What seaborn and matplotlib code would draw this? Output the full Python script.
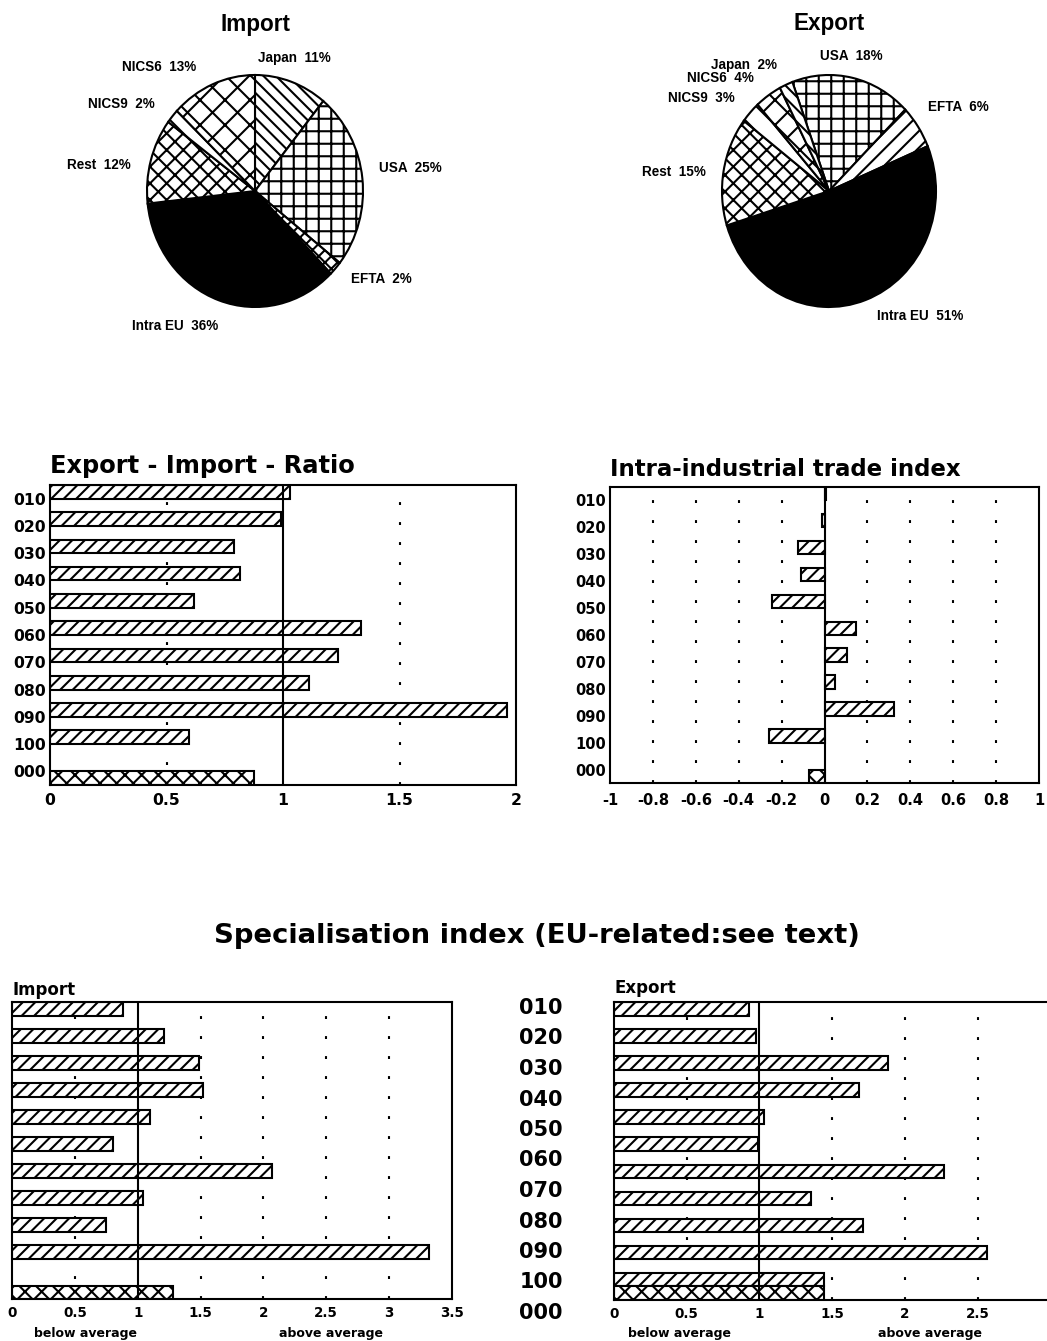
import numpy as np
import pandas as pd
import matplotlib
matplotlib.use("Agg")
import matplotlib.pyplot as plt
import seaborn as sns

# ---------------- data ----------------
pie_import_labels = ["Japan", "USA", "EFTA", "Intra EU", "Rest", "NICS9", "NICS6"]
pie_import_values = [11, 25, 2, 36, 12, 2, 13]
pie_export_labels = ["USA", "EFTA", "Intra EU", "Rest", "NICS9", "NICS6", "Japan"]
pie_export_values = [18, 6, 51, 15, 3, 4, 2]

sectors = ["010", "020", "030", "040", "050", "060", "070", "080", "090", "100"]
total_code = "000"

ratio_sector = [1.03, 0.99, 0.79, 0.816, 0.617, 1.336, 1.235, 1.11, 1.96, 0.598]
ratio_total = 0.874

intra_sector = [0.008, -0.01, -0.125, -0.108, -0.246, 0.145, 0.103, 0.049, 0.326, -0.258]
intra_total = -0.074

spec_import_sector = [0.88, 1.21, 1.485, 1.52, 1.095, 0.80, 2.07, 1.045, 0.745, 3.32]
spec_import_total = 1.28

spec_export_sector = [0.93, 0.976, 1.887, 1.688, 1.029, 0.988, 2.27, 1.355, 1.712, 2.563]
spec_export_total_sector = 1.444
spec_export_total = 1.444

ratio_ticks = [0, 0.5, 1, 1.5, 2]
ratio_ticklabels = ["0", "0.5", "1", "1.5", "2"]
intra_ticks = [-1, -0.8, -0.6, -0.4, -0.2, 0, 0.2, 0.4, 0.6, 0.8, 1]
intra_ticklabels = ["-1", "-0.8", "-0.6", "-0.4", "-0.2", "0", "0.2", "0.4", "0.6", "0.8", "1"]
spec_ticks = [0, 0.5, 1, 1.5, 2, 2.5, 3, 3.5]
spec_ticklabels = ["0", "0.5", "1", "1.5", "2", "2.5", "3", "3.5"]

# ---------------- style ----------------
sns.set_theme(style="white")
plt.rcParams["font.family"] = ["DejaVu Sans"]
plt.rcParams["font.weight"] = "bold"
plt.rcParams["text.color"] = "black"
plt.rcParams["xtick.color"] = "black"
plt.rcParams["ytick.color"] = "black"
plt.rcParams["axes.labelcolor"] = "black"
plt.rcParams["hatch.linewidth"] = 1.0
plt.rcParams["hatch.color"] = "black"
plt.rcParams["axes.edgecolor"] = "black"
plt.rcParams["axes.linewidth"] = 1.0

W, H = 1047, 1341
DPI = 150
fig = plt.figure(figsize=(W / DPI, H / DPI), dpi=DPI)
fig.patch.set_facecolor("white")


def px_axes(l, t, r, b):
    return fig.add_axes([l / W, 1 - b / H, (r - l) / W, (b - t) / H])


def ftext(x, y, s, **kw):
    kw.setdefault("color", "black")
    return fig.text(x / W, 1 - y / H, s, **kw)


# ---------------- pies ----------------
PIE_FONT = dict(family="Liberation Sans", weight="bold", fontsize=6.5, color="black")


def pie_panel(ax, values, labels, hatches, colors, start, label_pos):
    wedges, _ = ax.pie(values, startangle=start, counterclock=False, colors=colors,
                       hatch=hatches, wedgeprops=dict(edgecolor="black", linewidth=1.0))
    for w in wedges:
        w.set_clip_on(False)
    ax.set_aspect("auto")
    ax.set_xlim(-1, 1)
    ax.set_ylim(-1, 1)
    for lab, val, (dx, dy) in zip(labels, values, label_pos):
        ax.text(dx, dy, f"{lab}  {val}%", ha="center", va="center", clip_on=False, **PIE_FONT)


ax_pi = px_axes(147, 75, 363, 307)
pie_panel(ax_pi, pie_import_values, pie_import_labels,
          ["\\\\\\\\", "++", "xxxx", None, "xxx", "\\\\", "xx"],
          ["white", "white", "white", "black", "white", "white", "white"], 90,
          [(0.36, 1.15), (1.44, 0.20), (1.17, -0.76), (-0.74, -1.16),
           (-1.45, 0.22), (-1.24, 0.75), (-0.89, 1.07)])
ftext(255, 31, "Import", ha="center", va="baseline", family="Liberation Sans",
      weight="bold", fontsize=10.8)

ax_pe = px_axes(722, 75, 936, 307)
pie_panel(ax_pe, pie_export_values, pie_export_labels,
          ["++", "///", None, "xxx", "\\\\", "xx", "\\\\\\\\"],
          ["white", "white", "black", "white", "white", "white", "white"], 110,
          [(0.21, 1.16), (1.21, 0.72), (0.85, -1.08), (-1.45, 0.16),
           (-1.19, 0.80), (-1.01, 0.97), (-0.79, 1.09)])
ftext(829, 30, "Export", ha="center", va="baseline", family="Liberation Sans",
      weight="bold", fontsize=10.8)


# ---------------- bar panels ----------------
def hbar_panel(ax, sector_vals, total_val, total_sector_val=None):
    cats = sectors + [total_code]
    rows = [(c, v, "sector") for c, v in zip(sectors, sector_vals)]
    if total_sector_val is not None:
        rows.append((total_code, total_sector_val, "sector"))
    rows.append((total_code, total_val, "total"))
    df = pd.DataFrame(rows, columns=["code", "value", "kind"])
    sns.barplot(data=df, x="value", y="code", hue="kind", order=cats,
                hue_order=["sector", "total"], orient="h", dodge=True, width=1.0,
                palette={"sector": "#ffffff", "total": "#fffffe"}, saturation=1,
                edgecolor="black", linewidth=1.0, errorbar=None, legend=False, ax=ax)
    for p in ax.patches:
        fc = p.get_facecolor()
        p.set_hatch("////" if fc[2] > 0.999 else "xxx")
        p.set_facecolor("white")
        p.set_zorder(2)
    ax.set_xlabel("")
    ax.set_ylabel("")
    ax.set_ylim(len(cats) - 0.5, -0.5)
    for s in ax.spines.values():
        s.set_visible(True)
        s.set_linewidth(1.0)
        s.set_color("black")


def ref_lines(ax, solid, dotted):
    ax.axvline(solid, color="black", lw=1.0, zorder=3)
    for d in dotted:
        ax.axvline(d, color="black", lw=1.0, linestyle=(0, (1.4, 8.2)), zorder=0.5)


# Export - Import - Ratio
ax_r = px_axes(50, 485, 516, 785)
hbar_panel(ax_r, ratio_sector, ratio_total)
ax_r.set_xlim(0, 2)
ax_r.set_xticks(ratio_ticks, ratio_ticklabels)
ref_lines(ax_r, 1, [0.5, 1.5])
ax_r.tick_params(axis="x", direction="in", length=3, width=1, labelsize=7.5, pad=4)
ax_r.tick_params(axis="y", length=0, labelsize=7.5, pad=2)
ftext(50, 473, "Export - Import - Ratio", ha="left", va="baseline", fontsize=11.6, weight="bold")

# Intra-industrial trade index
ax_i = px_axes(610, 487, 1039, 783)
hbar_panel(ax_i, intra_sector, intra_total)
ax_i.set_xlim(-1, 1)
ax_i.set_xticks(intra_ticks, intra_ticklabels)
ref_lines(ax_i, 0, [-0.8, -0.6, -0.4, -0.2, 0.2, 0.4, 0.6, 0.8])
ax_i.tick_params(axis="x", direction="in", length=3, width=1, labelsize=7, pad=5)
ax_i.tick_params(axis="y", length=0, labelsize=7, pad=2)
ftext(610, 476, "Intra-industrial trade index", ha="left", va="baseline", fontsize=11, weight="bold")

# Specialisation index
ftext(537, 943, "Specialisation index (EU-related:see text)", ha="center", va="baseline",
      fontsize=13.2, weight="bold")

ax_si = px_axes(12, 1002, 452, 1299)
hbar_panel(ax_si, spec_import_sector, spec_import_total)
ax_si.set_xlim(0, 3.5)
ax_si.set_xticks(spec_ticks, spec_ticklabels)
ax_si.set_yticks([])
ref_lines(ax_si, 1, [0.5, 1.5, 2, 2.5, 3])
ax_si.tick_params(axis="x", direction="in", length=3, width=1, labelsize=6.5, pad=3.5)
ftext(12, 995, "Import", ha="left", va="baseline", fontsize=8, weight="bold")

ax_se = px_axes(614, 1002, 614 + 3.5 * 145.4, 1300)
hbar_panel(ax_se, spec_export_sector, spec_export_total, spec_export_total_sector)
ax_se.set_xlim(0, 3.5)
ax_se.set_xticks(spec_ticks[:6], spec_ticklabels[:6])
ax_se.set_yticks([])
ref_lines(ax_se, 1, [0.5, 1.5, 2, 2.5, 3])
ax_se.tick_params(axis="x", direction="in", length=3, width=1, labelsize=6.5, pad=3.5)
ftext(615, 993, "Export", ha="left", va="baseline", fontsize=8, weight="bold")

# middle category column
for i, c in enumerate(sectors + [total_code]):
    ftext(541, 1008 + 30.5 * i, c, ha="center", va="center", fontsize=10, weight="bold")

# below / above average
for x, s in [(85, "below average"), (331, "above average"),
             (680, "below average"), (930, "above average")]:
    ftext(x, 1334, s, ha="center", va="center", fontsize=6, weight="bold")

fig.savefig("out.png", dpi=DPI, facecolor="white")
